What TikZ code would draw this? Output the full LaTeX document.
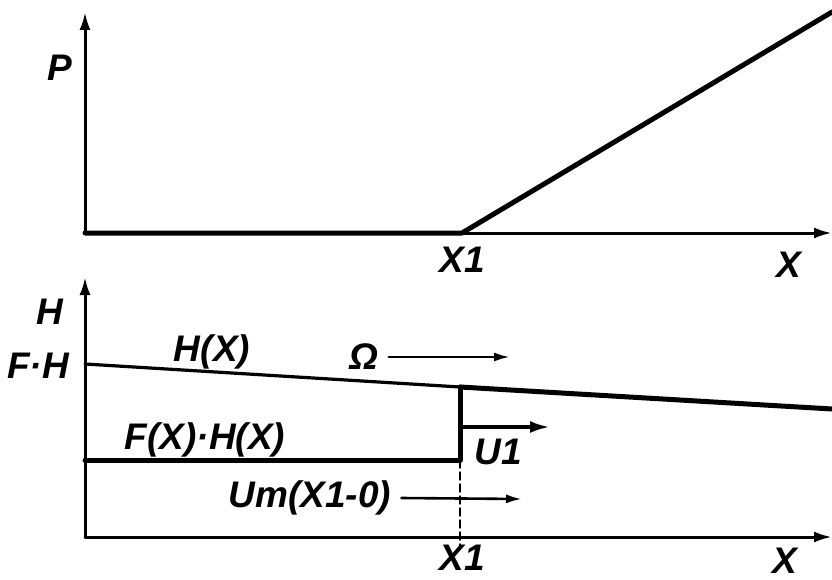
\documentclass[tikz,border=0pt]{standalone}
\usepackage{fontspec}
\setmainfont{Liberation Sans}
\usetikzlibrary{arrows.meta}

\begin{document}
\begin{tikzpicture}[x=1pt,y=-1pt,line cap=round,line join=round,
  every node/.style={font=\fontsize{37}{42}\selectfont\bfseries\itshape,inner sep=0pt},
  axis/.style={line width=3pt,-{Latex[length=18pt,width=11pt]}},
  heavy/.style={line width=5pt},
  slope/.style={line width=3.2pt},
  flow/.style={line width=2.6pt,-{Latex[length=16pt,width=9pt]}}]
  \useasboundingbox (0,0) rectangle (832,580);

  % upper diagram: P over X
  \coordinate (po) at (85,233);
  \coordinate (ptop) at (85,12);
  \coordinate (pend) at (832,233);
  \coordinate (pk) at (462,233);
  \coordinate (prise) at (832,12);
  \draw[axis] (po) -- (ptop);
  \draw[axis] (po) -- (pend);
  \draw[heavy] (po) -- (pk) -- (prise);
  \node (p) at (60,68) {P};
  \node (xonea) at (462,260) {X1};
  \node (xa) at (789,265) {X};

  % lower diagram: H over X
  \coordinate (ho) at (85,537);
  \coordinate (htop) at (85,277);
  \coordinate (hend) at (832,537);
  \coordinate (fh) at (85,364);
  \coordinate (hk) at (460,387);
  \coordinate (hr) at (832,409);
  \coordinate (fk) at (460,460);
  \coordinate (fl) at (85,460);
  \coordinate (dk) at (460,548);
  \draw[axis] (ho) -- (htop);
  \draw[axis] (ho) -- (hend);
  \draw[slope] (fh) -- (hk);
  \draw[heavy] (hk) -- (hr);
  \draw[heavy] (fl) -- (fk) -- (hk);
  \draw[line width=1.4pt,dash pattern=on 8pt off 4pt] (fk) -- (dk);

  \node (h) at (50,312) {H};
  \node (fhl) at (38,366) {F·H};
  \node (hx) at (212,352) {H(X)};
  \node (om) at (364,357) {Ω};
  \node (fx) at (205,440) {F(X)·H(X)};
  \node (uone) at (498,452) {U1};
  \node (um) at (310,498) {Um(X1-0)};
  \node (xoneb) at (462,558) {X1};
  \node (xb) at (785,561) {X};

  % flow arrows
  \coordinate (omend) at (510,357);
  \coordinate (us) at (460,427);
  \coordinate (ue) at (550,427);
  \coordinate (umend) at (522,499);
  \draw[flow] ([xshift=10pt]om.east) -- (omend);
  \draw[flow,line width=3.6pt,-{Latex[length=20pt,width=12pt]}] (us) -- (ue);
  \draw[flow] ([xshift=10pt]um.east) -- (umend);
\end{tikzpicture}
\end{document}
